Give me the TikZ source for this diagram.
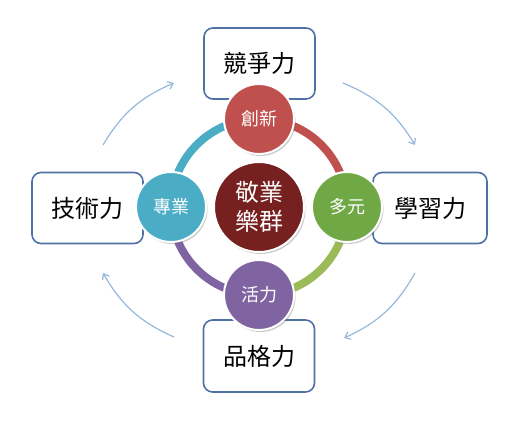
\documentclass[tikz,border=0pt]{standalone}
\usepackage{fontspec}
\newfontfamily\cjk{Noto Sans CJK TC}
\usetikzlibrary{arrows.meta, shadows}

\definecolor{boxblue}{RGB}{79,113,165}
\definecolor{arrblue}{RGB}{150,184,220}
\definecolor{ringred}{RGB}{192,80,77}
\definecolor{ringteal}{RGB}{75,172,198}
\definecolor{ringgreen}{RGB}{155,187,89}
\definecolor{ringpurple}{RGB}{128,100,162}
\definecolor{valgreen}{RGB}{112,168,70}
\definecolor{coremaroon}{RGB}{118,32,32}

\begin{document}
\begin{tikzpicture}[
  x=1pt, y=1pt,
  font=\cjk,
  pillar/.style ={rectangle, rounded corners=9pt, draw=boxblue, line width=1.6pt, fill=white,
                  minimum width=111pt, minimum height=71pt, font=\cjk\fontsize{24}{26}\selectfont},
  value/.style  ={circle, draw=white, line width=2pt, minimum size=70pt, inner sep=0pt, text=white,
                  font=\cjk\fontsize{18}{20}\selectfont,
                  drop shadow={shadow xshift=1.5pt, shadow yshift=-2pt, opacity=0.35, fill=black!60}},
  core/.style   ={value, fill=coremaroon, minimum size=90pt, font=\cjk\fontsize{24}{29}\selectfont, align=center},
  ring/.style   ={line width=8pt},
  cyc/.style    ={-{Straight Barb[length=5pt, width=8pt]}, draw=arrblue, line width=1.2pt}
]
\useasboundingbox (0,0) rectangle (522,426);

% ---- outer boxes ----
\node[pillar] (comp)  at (259.5,362.5) {競爭力};
\node[pillar] (tech)  at (87.5,218)    {技術力};
\node[pillar, minimum width=114pt] (learn) at (430,218) {學習力};
\node[pillar, minimum height=72pt] (chara) at (259,70) {品格力};

% ---- ring ----
\coordinate (ctr) at (259,219);
\draw[ring, ringred]    ([shift={(0:88)}]ctr)   arc (0:90:88);
\draw[ring, ringteal]   ([shift={(90:88)}]ctr)  arc (90:180:88);
\draw[ring, ringpurple] ([shift={(180:88)}]ctr) arc (180:270:88);
\draw[ring, ringgreen]  ([shift={(270:88)}]ctr) arc (270:360:88);

% ---- values on the ring ----
\node[core] (heart) at (ctr) {敬業\\樂群};
\node[value, fill=ringred]    (innov) at (259,307) {創新};
\node[value, fill=ringteal]   (prof)  at (171,219) {專業};
\node[value, fill=valgreen]   (diver) at (347,219) {多元};
\node[value, fill=ringpurple] (vital) at (259,131) {活力};

% ---- cycle arrows ----
\coordinate (tlA) at (103,281); \coordinate (tlB) at (174,343);
\coordinate (trA) at (343,343); \coordinate (trB) at (415,281);
\coordinate (brA) at (415,153); \coordinate (brB) at (344,88);
\coordinate (blA) at (174,89);  \coordinate (blB) at (103,153);
\draw[cyc] (tlA) to[bend left=18] (tlB);
\draw[cyc] (trA) to[bend left=18] (trB);
\draw[cyc] (brA) to[bend left=18] (brB);
\draw[cyc] (blA) to[bend left=18] (blB);

\end{tikzpicture}
\end{document}
